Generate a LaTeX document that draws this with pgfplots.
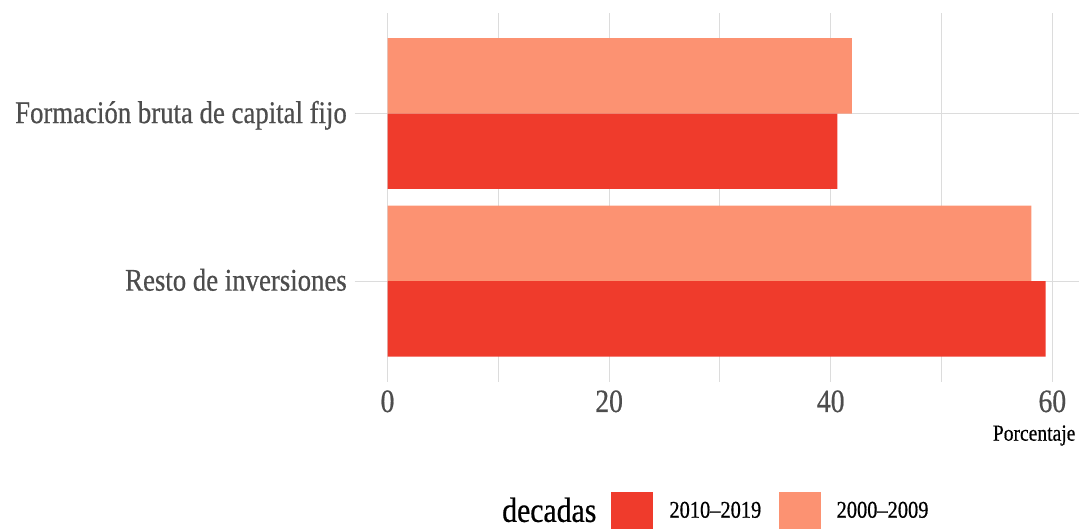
\documentclass[border=0pt]{standalone}
\usepackage{pgfplots}
\pgfplotsset{compat=1.18}
\usepackage{fontspec}
\setmainfont{Liberation Serif}[FakeStretch=0.85,FakeBold=0.6]
\definecolor{dark}{HTML}{EF3B2C}
\definecolor{light}{HTML}{FC9272}
\definecolor{gridc}{HTML}{DCDCDC}
\definecolor{txt}{HTML}{4D4D4D}
\begin{document}
\begin{tikzpicture}[x=1pt,y=1pt]
\path[use as bounding box] (0,0) rectangle (1080,529);
\begin{axis}[
  at={(354.6pt,147.3pt)}, anchor=south west,
  scale only axis, width=724pt, height=368.7pt,
  xmin=-2.97, xmax=62.37, ymin=0.4, ymax=2.6,
  axis line style={draw=none},
  tick style={draw=none},
  xtick={0,20,40,60}, minor xtick={10,30,50},
  ytick={1,2}, yticklabels={Resto de inversiones, Formación bruta de capital fijo},
  xmajorgrids, xminorgrids, ymajorgrids,
  major grid style={gridc, line width=1.1pt},
  minor grid style={gridc, line width=1.1pt},
  /pgf/number format/assume math mode=true,
  xticklabel style={font=\fontsize{32.5}{34}\selectfont, text=txt, anchor=base, inner sep=0pt, yshift=-30.3pt},
  yticklabel style={font=\fontsize{31.5}{33}\selectfont, text=txt, anchor=base east, inner sep=0pt, xshift=-7.6pt, yshift=-9.5pt},
  xlabel={Porcentaje},
  xlabel style={at={(rel axis cs:1,0)}, anchor=base east, inner sep=0pt, yshift=-59pt, xshift=-3pt, font=\fontsize{23}{25}\selectfont},
  legend style={at={(axis description cs:0.2036,-0.3493)}, anchor=west, draw=none, fill=none,
    legend columns=3, column sep=0pt, inner sep=0pt,
    nodes={inner sep=0pt, font=\fontsize{24}{26}\selectfont}},
  legend cell align=left,
]
\addplot[xbar, fill=light, draw=none, bar width=0.45, bar shift=0pt, forget plot] coordinates {(41.9,2.225) (58.1,1.225)};
\addplot[xbar, fill=dark, draw=none, bar width=0.45, bar shift=0pt, forget plot] coordinates {(40.6,1.775) (59.4,0.775)};
\addlegendimage{empty legend}
\addlegendentry{\fontsize{35}{37}\selectfont decadas}
\addlegendimage{legend image code/.code={\path (0pt,0pt) (72.7pt,0pt); \fill[dark] (15pt,-18.2pt) rectangle (55.7pt,18.2pt);}}
\addlegendentry{2010–2019}
\addlegendimage{legend image code/.code={\path (0pt,0pt) (75pt,0pt); \fill[light] (18pt,-18.2pt) rectangle (58.7pt,18.2pt);}}
\addlegendentry{2000–2009}
\end{axis}
\end{tikzpicture}
\end{document}
